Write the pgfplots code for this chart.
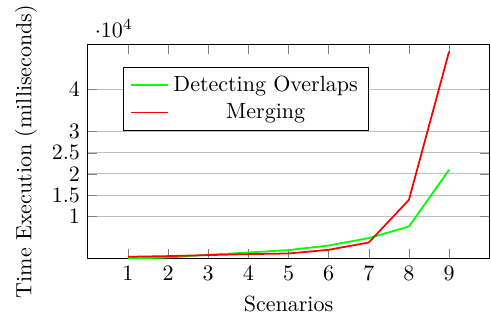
\documentclass[border=0pt]{standalone}
\usepackage{pgfplots}
\pgfplotsset{compat=1.18}
\begin{document}
\begin{tikzpicture}
\begin{axis}[
  scale only axis,
  width=182.5pt, height=97.5pt,
  xmin=0, xmax=10, ymin=0, ymax=50610,
  xtick={1,2,3,4,5,6,7,8,9},
  ytick={10000,15000,20000,25000,30000,40000},
  ymajorgrids=true,
  xlabel={Scenarios},
  ylabel={Time Execution (milliseconds)},
  legend style={at={(0.087,0.896)}, anchor=north west},
]
\addplot[green, thick] coordinates {(1,50) (2,280) (3,920) (4,1460) (5,2030) (6,3110) (7,4860) (8,7590) (9,20970)};
\addlegendentry{Detecting Overlaps}
\addplot[red, thick] coordinates {(1,450) (2,610) (3,850) (4,1080) (5,1230) (6,2100) (7,3820) (8,13890) (9,48870)};
\addlegendentry{Merging}
\end{axis}
\pgfresetboundingbox
\path ([xshift=-39.9pt,yshift=-26.9pt]current axis.south west) rectangle ([xshift=0.8pt,yshift=20.1pt]current axis.north east);
\end{tikzpicture}
\end{document}
